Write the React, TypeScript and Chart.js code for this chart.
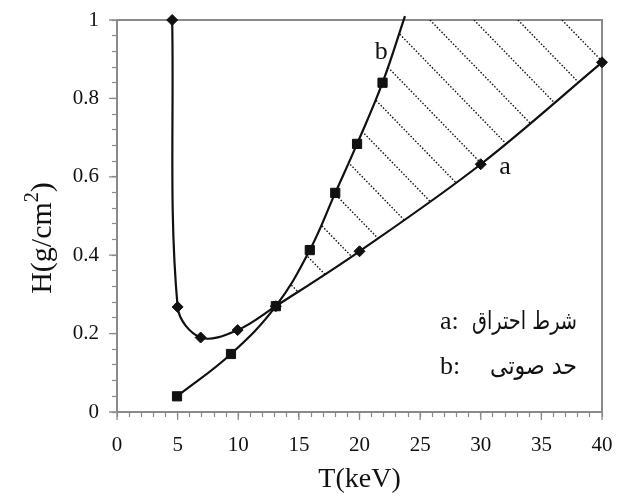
import React, { useEffect, useRef } from 'react';
import { Chart, registerables } from 'chart.js';

Chart.register(...registerables);

// ---- data ----
// curve a : ignition condition (diamonds)
const curveAT = [4.55, 5.0, 6.9, 9.95, 13.1, 20.0, 30.0, 40.0];
const curveAH = [1.0, 0.268, 0.19, 0.209, 0.27, 0.41, 0.632, 0.892];
// curve b : sonic limit (squares); last point is the unmarked continuation
const curveBT = [4.95, 9.4, 13.1, 15.9, 18.0, 19.8, 21.9, 23.75];
const curveBH = [0.04, 0.148, 0.27, 0.413, 0.559, 0.684, 0.84, 1.01];
const curveBMarked = [true, true, true, true, true, true, true, false];
// index of the common point where the two curves cross
const crossIndexA = 4;
const crossIndexB = 2;

const xLabelValues = [0, 5, 10, 15, 20, 25, 30, 35, 40];
const yLabelValues = [0, 0.2, 0.4, 0.6, 0.8, 1];

const curveLabels = ['a', 'b'];
const curveLabelT = [32.0, 21.8];
const curveLabelH = [0.625, 0.918];

const legendKeys = ['a:', 'b:'];
const legendNames = ['شرط احتراق', 'حد صوتی'];
const legendNameWidths = [105, 87];

const xTitle = 'T(keV)';
const yTitleMain = 'H(g/cm';
const yTitleSup = '2';
const yTitleEnd = ')';

const SERIF = "'Liberation Serif', 'DejaVu Serif', serif";
const ARABIC = "'DejaVu Sans', sans-serif";
const INK = '#111111';
const AXIS = '#8a8a8a';
const MINOR_TICK = 5;
const MAJOR_TICK = 8;

const hatchPlugin = {
  id: 'hatch',
  afterDatasetsDraw(chart: any) {
    const { ctx, chartArea: ca } = chart;
    const metaA = chart.getDatasetMeta(0);
    const metaB = chart.getDatasetMeta(1);
    metaA.dataset.updateControlPoints(ca, 'x');
    metaB.dataset.updateControlPoints(ca, 'x');
    const a = metaA.data as any[];
    const b = metaB.data as any[];
    ctx.save();
    ctx.beginPath();
    ctx.rect(ca.left, ca.top, ca.right - ca.left, ca.bottom - ca.top);
    ctx.clip();
    ctx.beginPath();
    ctx.moveTo(b[crossIndexB].x, b[crossIndexB].y);
    for (let i = crossIndexB + 1; i < b.length; i++) {
      ctx.bezierCurveTo(b[i - 1].cp2x, b[i - 1].cp2y, b[i].cp1x, b[i].cp1y, b[i].x, b[i].y);
    }
    const last = a[a.length - 1];
    ctx.lineTo(ca.right + 10, b[b.length - 1].y - 10);
    ctx.lineTo(ca.right + 10, last.y);
    ctx.lineTo(last.x, last.y);
    for (let i = a.length - 1; i > crossIndexA; i--) {
      ctx.bezierCurveTo(a[i].cp1x, a[i].cp1y, a[i - 1].cp2x, a[i - 1].cp2y, a[i - 1].x, a[i - 1].y);
    }
    ctx.closePath();
    ctx.clip();
    ctx.strokeStyle = INK;
    ctx.lineWidth = 1.4;
    ctx.setLineDash([1.5, 1.8]);
    const slope = 1.03;
    const h = ca.bottom - ca.top;
    for (let k = 0; k < 20; k++) {
      const x0 = ca.right - 40 - 44 * k;
      ctx.beginPath();
      ctx.moveTo(x0, ca.top);
      ctx.lineTo(x0 + h / slope, ca.bottom);
      ctx.stroke();
    }
    ctx.restore();
  },
};

const decorPlugin = {
  id: 'decor',
  beforeDatasetsDraw(chart: any) {
    const { ctx, chartArea: ca, scales } = chart;
    ctx.save();
    ctx.strokeStyle = AXIS;
    ctx.lineWidth = 2;
    ctx.beginPath();
    ctx.moveTo(ca.left, ca.top);
    ctx.lineTo(ca.right, ca.top);
    ctx.lineTo(ca.right, ca.bottom);
    ctx.stroke();
    // longer major ticks
    ctx.lineWidth = 1.3;
    ctx.beginPath();
    xLabelValues.forEach((v) => {
      const px = scales.x.getPixelForValue(v);
      ctx.moveTo(px, ca.bottom);
      ctx.lineTo(px, ca.bottom + MAJOR_TICK);
    });
    yLabelValues.forEach((v) => {
      const py = scales.y.getPixelForValue(v);
      ctx.moveTo(ca.left, py);
      ctx.lineTo(ca.left - MAJOR_TICK, py);
    });
    ctx.stroke();
    ctx.restore();
  },
  afterDraw(chart: any) {
    const { ctx, chartArea: ca, scales } = chart;
    const xs = scales.x;
    const ys = scales.y;
    ctx.save();
    ctx.fillStyle = INK;
    // curve letters
    ctx.font = `26px ${SERIF}`;
    ctx.textAlign = 'center';
    ctx.textBaseline = 'middle';
    curveLabels.forEach((t, i) => {
      ctx.fillText(t, xs.getPixelForValue(curveLabelT[i]), ys.getPixelForValue(curveLabelH[i]));
    });
    // legend block
    ctx.textBaseline = 'alphabetic';
    const baselines = [ca.bottom - 83, ca.bottom - 38];
    legendKeys.forEach((k, i) => {
      ctx.direction = 'ltr';
      ctx.font = `26px ${SERIF}`;
      ctx.textAlign = 'left';
      ctx.fillText(k, ca.right - 162, baselines[i]);
      ctx.font = `25px ${ARABIC}`;
      ctx.textAlign = 'right';
      ctx.fillText(legendNames[i], ca.right - 25, baselines[i], legendNameWidths[i]);
    });
    // y axis title with superscript
    const big = `30px ${SERIF}`;
    const small = `20px ${SERIF}`;
    ctx.font = big;
    const w1 = ctx.measureText(yTitleMain).width;
    const w3 = ctx.measureText(yTitleEnd).width;
    ctx.font = small;
    const w2 = ctx.measureText(yTitleSup).width;
    const total = w1 + w2 + w3;
    ctx.translate(43, (ca.top + ca.bottom) / 2 + 22);
    ctx.rotate(-Math.PI / 2);
    ctx.textAlign = 'left';
    let x = -total / 2;
    ctx.font = big;
    ctx.fillText(yTitleMain, x, 0);
    x += w1;
    ctx.font = small;
    ctx.fillText(yTitleSup, x, -13);
    x += w2;
    ctx.font = big;
    ctx.fillText(yTitleEnd, x, 0);
    ctx.restore();
  },
};

export default function App() {
  const canvasRef = useRef<HTMLCanvasElement | null>(null);

  useEffect(() => {
    if (!canvasRef.current) return;
    const dataA = curveAT.map((t, i) => ({ x: t, y: curveAH[i] }));
    const dataB = curveBT.map((t, i) => ({ x: t, y: curveBH[i] }));
    const chart = new Chart(canvasRef.current, {
      type: 'line',
      data: {
        datasets: [
          {
            data: dataA,
            borderColor: INK,
            backgroundColor: INK,
            borderWidth: 2.2,
            pointStyle: 'rectRot',
            pointRadius: 5.5,
            pointBorderWidth: 1,
            tension: 0.35,
            clip: false,
            fill: false,
          },
          {
            data: dataB,
            borderColor: INK,
            backgroundColor: INK,
            borderWidth: 2.2,
            pointStyle: 'rect',
            pointRadius: curveBMarked.map((m) => (m ? 6.5 : 0)),
            pointBorderWidth: 1,
            tension: 0.4,
            clip: false,
            fill: false,
          },
        ],
      },
      options: {
        animation: false,
        responsive: true,
        maintainAspectRatio: false,
        layout: { padding: { top: 12, right: 13, left: 0, bottom: 0 } },
        plugins: {
          legend: { display: false },
          tooltip: { enabled: false },
        },
        scales: {
          x: {
            type: 'linear',
            min: 0,
            max: 40,
            ticks: {
              stepSize: 1,
              autoSkip: false,
              maxRotation: 0,
              padding: 18,
              color: INK,
              font: { family: SERIF, size: 21, lineHeight: 1 },
              callback: (v: any) => (xLabelValues.includes(Number(v)) ? String(v) : ''),
            },
            grid: {
              drawOnChartArea: false,
              drawTicks: true,
              tickLength: MINOR_TICK,
              tickColor: AXIS,
              tickWidth: 1.2,
            },
            border: { color: AXIS, width: 2 },
            title: {
              display: true,
              text: xTitle,
              color: INK,
              font: { family: SERIF, size: 28, lineHeight: 1 },
              padding: { top: 0, bottom: 0 },
            },
            afterFit: (s: any) => {
              s.height = 82;
              s.paddingLeft = 0;
              s.paddingRight = 0;
            },
          },
          y: {
            type: 'linear',
            min: 0,
            max: 1,
            ticks: {
              stepSize: 0.04,
              autoSkip: false,
              padding: 13,
              color: INK,
              font: { family: SERIF, size: 21, lineHeight: 1 },
              callback: (v: any) => {
                const r = Math.round(Number(v) * 100) / 100;
                return yLabelValues.includes(r) ? String(r) : '';
              },
            },
            grid: {
              drawOnChartArea: false,
              drawTicks: true,
              tickLength: MINOR_TICK,
              tickColor: AXIS,
              tickWidth: 1.2,
            },
            border: { color: AXIS, width: 2 },
            afterFit: (s: any) => {
              s.width = 109;
              s.paddingTop = 0;
              s.paddingBottom = 0;
            },
          },
        },
      },
      plugins: [decorPlugin, hatchPlugin],
    });
    return () => chart.destroy();
  }, []);

  return (
    <div style={{ width: 607, height: 486, position: 'relative', background: '#fff' }}>
      <canvas ref={canvasRef} />
    </div>
  );
}
